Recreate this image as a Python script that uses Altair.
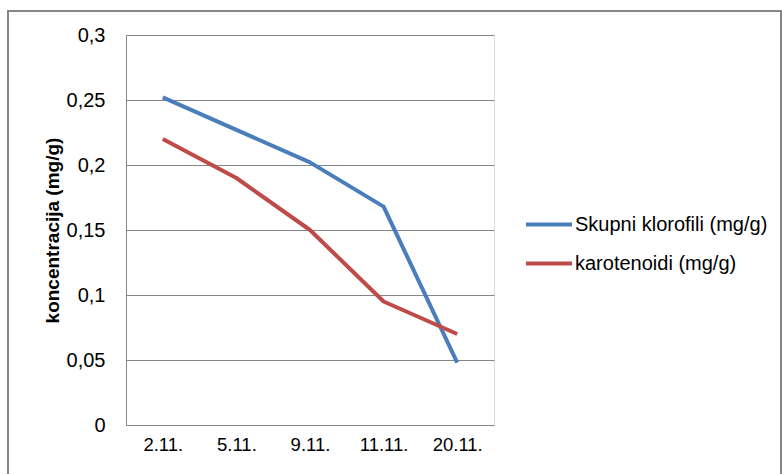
import altair as alt
import pandas as pd

# Sampling dates and measured pigment concentrations (mg/g)
dates = ["2.11.", "5.11.", "9.11.", "11.11.", "20.11."]
chlorophyll = [0.252, 0.227, 0.202, 0.168, 0.048]
carotenoids = [0.220, 0.190, 0.150, 0.095, 0.070]
series_names = ["Skupni klorofili (mg/g)", "karotenoidi (mg/g)"]
y_ticks = [0, 0.05, 0.1, 0.15, 0.2, 0.25, 0.3]

rows = []
for name, values in zip(series_names, [chlorophyll, carotenoids]):
    for d, v in zip(dates, values):
        rows.append({"datum": d, "vrijednost": v, "serija": name})
df = pd.DataFrame(rows)

FONT = "Liberation Sans"
GREY = "#868686"

lines = alt.Chart(df).mark_line(strokeWidth=4, strokeJoin="round").encode(
    x=alt.X(
        "datum:N",
        sort=dates,
        scale=alt.Scale(type="point", padding=0.5),
        axis=alt.Axis(
            title=None,
            labelAngle=0,
            ticks=False,
            domainColor=GREY,
            labelPadding=10,
            labelFontSize=18.5,
            labelFont=FONT,
            labelColor="#000000",
        ),
    ),
    y=alt.Y(
        "vrijednost:Q",
        scale=alt.Scale(domain=[0, 0.3], nice=False),
        axis=alt.Axis(
            title="koncentracija (mg/g)",
            titleFont=FONT,
            titleFontSize=19,
            titleFontWeight="bold",
            titleColor="#000000",
            titleX=-68,
            titleY=195,
            titleAlign="center",
            titleBaseline="alphabetic",
            values=y_ticks,
            labelExpr="replace(format(datum.value, '.2~f'), '.', ',')",
            ticks=False,
            labelPadding=21,
            labelFontSize=20,
            labelFont=FONT,
            labelColor="#000000",
            domainColor=GREY,
            gridColor=GREY,
            gridWidth=1,
        ),
    ),
    color=alt.Color(
        "serija:N",
        sort=series_names,
        scale=alt.Scale(domain=series_names, range=["#4A7EBB", "#BE4B48"]),
        legend=alt.Legend(
            title=None,
            orient="none",
            legendX=398,
            legendY=170,
            symbolType="stroke",
            symbolSize=2116,
            symbolStrokeWidth=4,
            labelOffset=1,
            labelFontSize=20,
            labelFont=FONT,
            labelColor="#000000",
            labelLimit=400,
            clipHeight=39,
            rowPadding=0,
        ),
    ),
)

# Outer chart frame
frame = alt.Chart(pd.DataFrame({"k": [0]})).mark_rect(
    fill="transparent", stroke=GREY, strokeWidth=2
).encode(
    x=alt.value(-118),
    x2=alt.value(655),
    y=alt.value(-24),
    y2=alt.value(460),
)

chart = alt.layer(frame, lines).properties(
    width=368,
    height=390,
    autosize=alt.AutoSizeParams(type="none"),
    padding={"left": 126, "top": 35, "right": 288, "bottom": 49},
).configure_view(stroke=None).configure(background="white")

chart.save("out.html", embed_options={"renderer": "svg", "actions": False})
